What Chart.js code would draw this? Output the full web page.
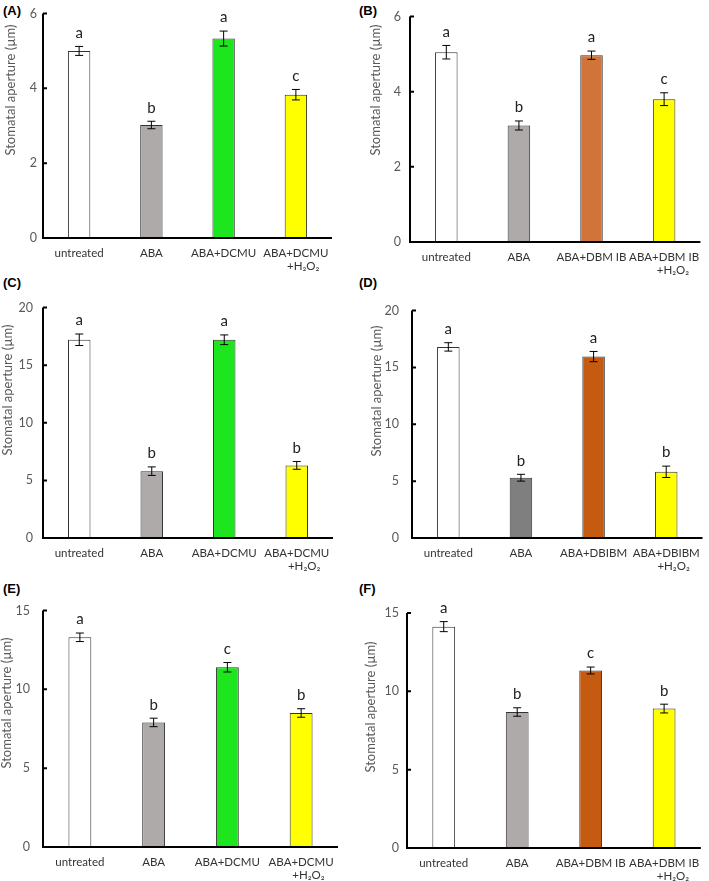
<!DOCTYPE html>
<html>
<head>
<meta charset="utf-8">
<script src="https://cdn.jsdelivr.net/npm/chart.js@4.4.1/dist/chart.umd.min.js"></script>
<style>
  body { margin: 0; background: #fff; }
  #fig { position: relative; width: 709px; height: 881px; }
  canvas { position: absolute; }
  .lbl { position: absolute; font: bold 13px "Liberation Sans", Arial, sans-serif; color: #000; }
</style>
</head>
<body>
<div id="fig">
  <div class="lbl" style="left:3px;top:3px">(A)</div>
  <div class="lbl" style="left:359px;top:3px">(B)</div>
  <div class="lbl" style="left:3px;top:275px">(C)</div>
  <div class="lbl" style="left:359px;top:275px">(D)</div>
  <div class="lbl" style="left:3px;top:581px">(E)</div>
  <div class="lbl" style="left:359px;top:581px">(F)</div>
</div>
<script>
// categories
const catDCMU = ["untreated", "ABA", "ABA+DCMU", ["ABA+DCMU", "     +H₂O₂"]];
const catDBMIB = ["untreated", "ABA", "ABA+DBM IB", ["ABA+DBM IB", "      +H₂O₂"]];
const catDBIBM = ["untreated", "ABA", "ABA+DBIBM", ["ABA+DBIBM", "     +H₂O₂"]];

// values, errors and letters per panel
const valA = [5.0, 3.02, 5.33, 3.83];
const errA = [0.12, 0.1, 0.2, 0.14];
const letA = ["a", "b", "a", "c"];

const valB = [5.05, 3.1, 4.97, 3.8];
const errB = [0.18, 0.12, 0.11, 0.17];
const letB = ["a", "b", "a", "c"];

const valC = [17.2, 5.8, 17.2, 6.3];
const errC = [0.5, 0.37, 0.42, 0.34];
const letC = ["a", "b", "a", "b"];

const valD = [16.8, 5.3, 15.95, 5.82];
const errD = [0.37, 0.3, 0.45, 0.5];
const letD = ["a", "b", "a", "b"];

const valE = [13.3, 7.9, 11.4, 8.5];
const errE = [0.27, 0.27, 0.3, 0.27];
const letE = ["a", "b", "c", "b"];

const valF = [14.13, 8.68, 11.33, 8.9];
const errF = [0.32, 0.27, 0.22, 0.28];
const letF = ["a", "b", "c", "b"];

// y axis ranges
const maxAB = 6, stepAB = 2;
const maxCD = 20, stepCD = 5;
const maxEF = 15, stepEF = 5;

const colDCMU = ["#ffffff", "#aeaaaa", "#1ee61e", "#ffff00"];
const colB = ["#ffffff", "#aeaaaa", "#d0743a", "#ffff00"];
const colD = ["#ffffff", "#7f7f7f", "#c55a11", "#ffff00"];
const colF = ["#ffffff", "#aeaaaa", "#c55a11", "#ffff00"];

const FONT = "Lato, 'Open Sans', sans-serif";

// panel boxes: canvas position and chart area inside it
const panels = [
  { x: 0,   y: 0,   w: 354, h: 290, l: 43, t: 5,  r: 332, b: 238, ty: 90,  tx: 11, tp: 6,  cats: catDCMU,  v: valA, e: errA, let: letA, max: maxAB, step: stepAB, col: colDCMU },
  { x: 354, y: 0,   w: 355, h: 290, l: 56, t: 6,  r: 348, b: 242, ty: 90,  tx: 22, tp: 9,  cats: catDBMIB, v: valB, e: errB, let: letB, max: maxAB, step: stepAB, col: colB },
  { x: 0,   y: 290, w: 354, h: 300, l: 43, t: 11, r: 333, b: 248, ty: 100, tx: 8,  tp: 10, cats: catDCMU,  v: valC, e: errC, let: letC, max: maxCD, step: stepCD, col: colDCMU },
  { x: 354, y: 290, w: 355, h: 300, l: 58, t: 12, r: 353, b: 248, ty: 101, tx: 23, tp: 13, cats: catDBIBM, v: valD, e: errD, let: letD, max: maxCD, step: stepCD, col: colD },
  { x: 0,   y: 590, w: 354, h: 291, l: 43, t: 19, r: 338, b: 257, ty: 113, tx: 7,  tp: 13, cats: catDCMU,  v: valE, e: errE, let: letE, max: maxEF, step: stepEF, col: colDCMU },
  { x: 354, y: 590, w: 355, h: 291, l: 53, t: 23, r: 348, b: 258, ty: 117, tx: 17, tp: 8,  cats: catDBMIB, v: valF, e: errF, let: letF, max: maxEF, step: stepEF, col: colF }
];

// error bars, letters, axis lines and inward ticks
const extras = {
  id: "extras",
  afterDatasetsDraw(chart, args, opts) {
    const ctx = chart.ctx;
    const ys = chart.scales.y;
    const area = chart.chartArea;
    const meta = chart.getDatasetMeta(0);
    ctx.save();
    ctx.strokeStyle = "#000";
    ctx.lineWidth = 1;
    meta.data.forEach((bar, i) => {
      const v = opts.v[i], e = opts.e[i];
      const yt = ys.getPixelForValue(v + e);
      const yb = ys.getPixelForValue(v - e);
      ctx.beginPath();
      ctx.moveTo(bar.x, yt); ctx.lineTo(bar.x, yb);
      ctx.moveTo(bar.x - 4, yt); ctx.lineTo(bar.x + 4, yt);
      ctx.moveTo(bar.x - 4, yb); ctx.lineTo(bar.x + 4, yb);
      ctx.stroke();
      ctx.fillStyle = "#222";
      ctx.font = "15px " + FONT;
      ctx.textAlign = "center";
      ctx.textBaseline = "bottom";
      ctx.fillText(opts.let[i], bar.x, yt - 6);
    });
    // axes
    ctx.lineWidth = 2;
    ctx.beginPath();
    ctx.moveTo(area.left, area.top);
    ctx.lineTo(area.left, area.bottom);
    ctx.lineTo(area.right, area.bottom);
    ctx.stroke();
    ctx.beginPath();
    ys.ticks.forEach(t => {
      const y = ys.getPixelForValue(t.value);
      ctx.moveTo(area.left, y); ctx.lineTo(area.left + 4, y);
    });
    ctx.stroke();
    // y title
    ctx.fillStyle = "#595959";
    ctx.font = "13px " + FONT;
    ctx.translate(opts.tx, opts.ty);
    ctx.rotate(-Math.PI / 2);
    ctx.textAlign = "center";
    ctx.textBaseline = "middle";
    ctx.fillText("Stomatal aperture (µm)", 0, 0);
    ctx.restore();
  }
};

const fig = document.getElementById("fig");
panels.forEach(p => {
  const cv = document.createElement("canvas");
  cv.width = p.w; cv.height = p.h;
  cv.style.left = p.x + "px"; cv.style.top = p.y + "px";
  cv.style.width = p.w + "px"; cv.style.height = p.h + "px";
  fig.appendChild(cv);

  new Chart(cv, {
    type: "bar",
    data: {
      labels: p.cats,
      datasets: [{
        data: p.v,
        backgroundColor: p.col,
        borderColor: "#333",
        borderWidth: 1,
        categoryPercentage: 1,
        barPercentage: 0.31
      }]
    },
    options: {
      responsive: false,
      animation: false,
      devicePixelRatio: 1,
      layout: { padding: { top: p.t, right: p.w - p.r, left: 0, bottom: 0 } },
      plugins: {
        legend: { display: false },
        tooltip: { enabled: false },
        extras: { v: p.v, e: p.e, let: p.let, tx: p.tx, ty: p.ty }
      },
      scales: {
        x: {
          grid: { display: false, drawTicks: false },
          border: { display: false },
          ticks: { color: "#333", font: { family: FONT, size: 11.5, lineHeight: 1.1 }, maxRotation: 0, autoSkip: false, padding: 9 },
          afterFit(s) { s.height = p.h - p.b; }
        },
        y: {
          min: 0, max: p.max,
          grid: { display: false, drawTicks: false },
          border: { display: false },
          ticks: { stepSize: p.step, color: "#595959", font: { family: FONT, size: 12.5 }, padding: p.tp },
          afterFit(s) { s.width = p.l; }
        }
      }
    },
    plugins: [extras]
  });
});
</script>
</body>
</html>
